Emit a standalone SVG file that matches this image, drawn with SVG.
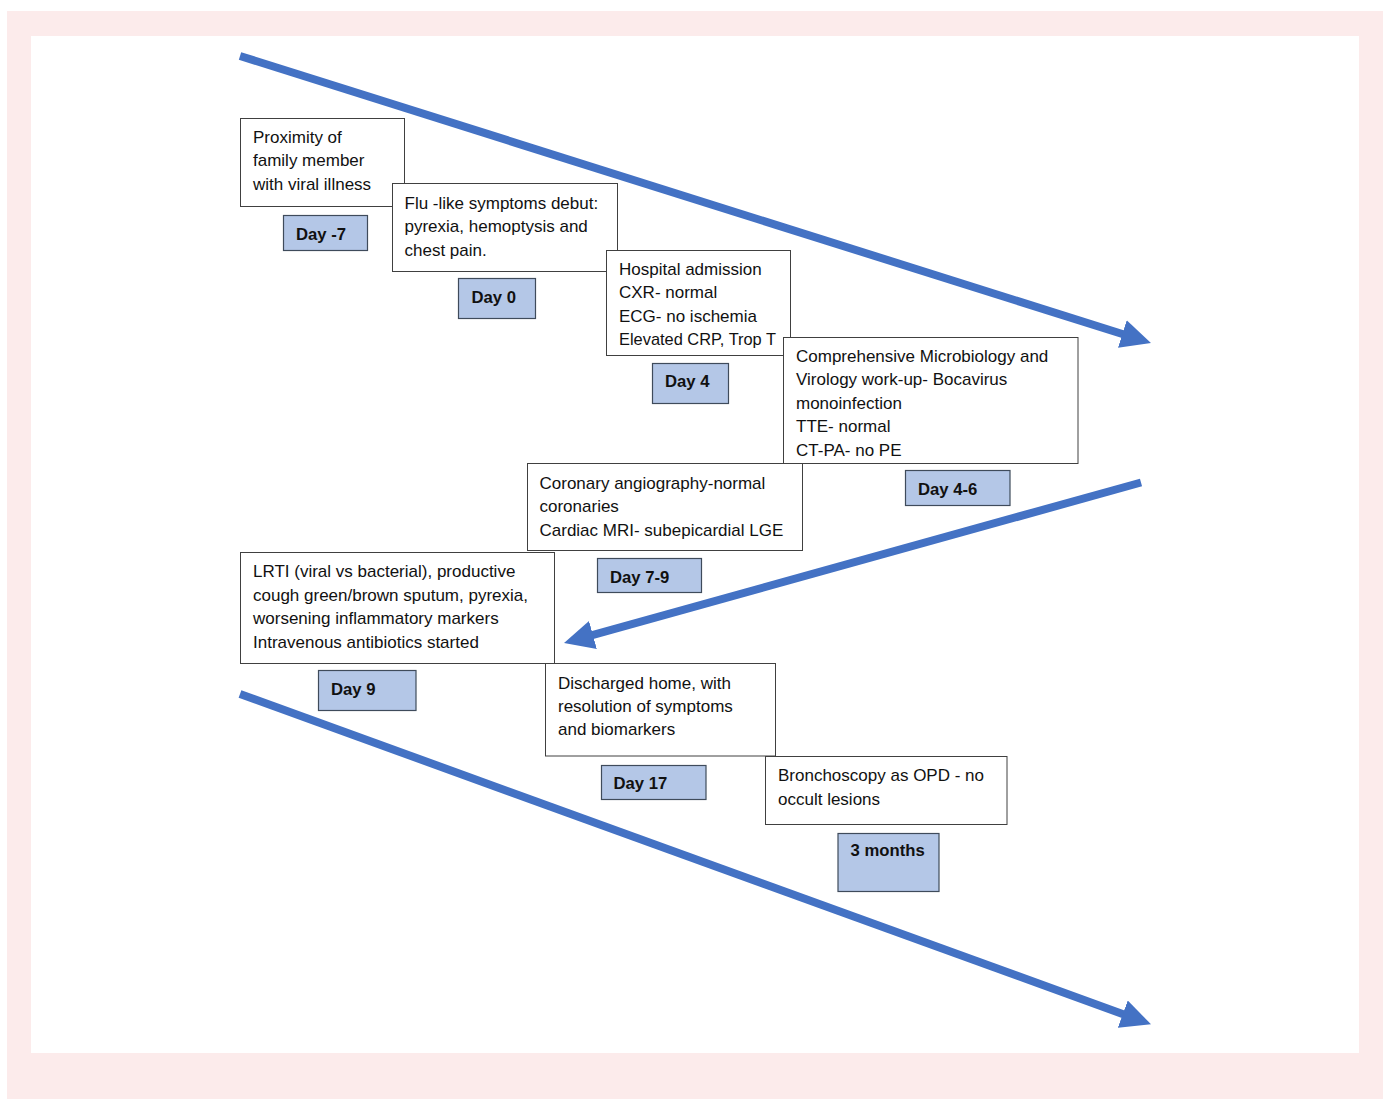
<svg xmlns="http://www.w3.org/2000/svg" width="1386" height="1099" viewBox="0 0 1386 1099">
  <defs>
    <style>
      .box { fill: #ffffff; stroke: #404040; stroke-width: 1; }
      .day { fill: #b4c7e7; stroke: #3f4b5b; stroke-width: 1.2; }
      .t { font-family: "Liberation Sans", Arial, sans-serif; font-size: 17px; fill: #111111; }
      .d { font-family: "Liberation Sans", Arial, sans-serif; font-size: 16.7px; font-weight: bold; fill: #111111; }
      .arrow { fill: none; stroke: #4472c4; stroke-width: 8; marker-end: url(#head); }
    </style>
    <marker id="head" markerUnits="userSpaceOnUse" markerWidth="30" markerHeight="29" refX="10" refY="14.5" orient="auto">
      <path d="M0,0 L30,14.5 L0,29 Z" fill="#4472c4"/>
    </marker>
  </defs>

  <g id="frame">
    <rect x="7" y="11" width="1376" height="1088" fill="#fcebeb"/>
    <rect x="31" y="36" width="1328" height="1017" fill="#ffffff"/>
  </g>

  <g id="connectors">
    <line class="arrow" x1="240" y1="56" x2="1131.9" y2="337"/>
    <line class="arrow" x1="1141" y1="482.5" x2="583.3" y2="637.6"/>
    <line class="arrow" x1="240" y1="694" x2="1132.2" y2="1017.5"/>
  </g>

  <g id="n1">
    <rect class="box" x="240.5" y="118.5" width="164" height="88"/>
    <text class="t" x="253" y="142.5">Proximity of</text>
    <text class="t" x="253" y="166">family member</text>
    <text class="t" x="253" y="189.5">with viral illness</text>
    <rect class="day" x="283.5" y="215.5" width="84" height="35"/>
    <text class="d" x="296" y="239.5">Day -7</text>
  </g>

  <g id="n2">
    <rect class="box" x="392.5" y="183.5" width="225" height="88"/>
    <text class="t" x="404.5" y="208.5">Flu -like symptoms debut:</text>
    <text class="t" x="404.5" y="232">pyrexia, hemoptysis and</text>
    <text class="t" x="404.5" y="255.5">chest pain.</text>
    <rect class="day" x="458.5" y="278.5" width="77" height="40"/>
    <text class="d" x="471.5" y="303">Day 0</text>
  </g>

  <g id="n3">
    <rect class="box" x="606.5" y="250.5" width="184" height="105"/>
    <text class="t" x="619" y="274.5">Hospital admission</text>
    <text class="t" x="619" y="298">CXR- normal</text>
    <text class="t" x="619" y="321.5">ECG- no ischemia</text>
    <text class="t" x="619" y="345" textLength="157" lengthAdjust="spacingAndGlyphs">Elevated CRP, Trop T</text>
    <rect class="day" x="652.5" y="363.5" width="76" height="40"/>
    <text class="d" x="665" y="387">Day 4</text>
  </g>

  <g id="n4">
    <rect class="box" x="783.5" y="337.5" width="294.5" height="126"/>
    <text class="t" x="796" y="361.5">Comprehensive Microbiology and</text>
    <text class="t" x="796" y="385">Virology work-up- Bocavirus</text>
    <text class="t" x="796" y="408.5">monoinfection</text>
    <text class="t" x="796" y="432">TTE- normal</text>
    <text class="t" x="796" y="455.5">CT-PA- no PE</text>
    <rect class="day" x="905.5" y="470.5" width="104.5" height="35"/>
    <text class="d" x="918" y="495">Day 4-6</text>
  </g>

  <g id="n5">
    <rect class="box" x="527.5" y="463.5" width="275" height="87"/>
    <text class="t" x="539.5" y="488.5">Coronary angiography-normal</text>
    <text class="t" x="539.5" y="512">coronaries</text>
    <text class="t" x="539.5" y="535.5">Cardiac MRI- subepicardial LGE</text>
    <rect class="day" x="597.5" y="558.5" width="104" height="34"/>
    <text class="d" x="610" y="582.5">Day 7-9</text>
  </g>

  <g id="n6">
    <rect class="box" x="240.5" y="552.5" width="314" height="111"/>
    <text class="t" x="253" y="577">LRTI (viral vs bacterial), productive</text>
    <text class="t" x="253" y="600.5">cough green/brown sputum, pyrexia,</text>
    <text class="t" x="253" y="624">worsening inflammatory markers</text>
    <text class="t" x="253" y="647.5">Intravenous antibiotics started</text>
    <rect class="day" x="318.5" y="670.5" width="97.5" height="40"/>
    <text class="d" x="331" y="694.5">Day 9</text>
  </g>

  <g id="n7">
    <rect class="box" x="545.5" y="663.5" width="230" height="92.5"/>
    <text class="t" x="558" y="688.5">Discharged home, with</text>
    <text class="t" x="558" y="711.5">resolution of symptoms</text>
    <text class="t" x="558" y="734.5">and biomarkers</text>
    <rect class="day" x="601.5" y="765.5" width="104.5" height="34"/>
    <text class="d" x="613.5" y="788.5">Day 17</text>
  </g>

  <g id="n8">
    <rect class="box" x="765.5" y="756.5" width="241.5" height="68"/>
    <text class="t" x="778" y="781">Bronchoscopy as OPD - no</text>
    <text class="t" x="778" y="804.5">occult lesions</text>
    <rect class="day" x="838" y="833.5" width="101" height="58"/>
    <text class="d" x="850.5" y="856">3 months</text>
  </g>
</svg>
